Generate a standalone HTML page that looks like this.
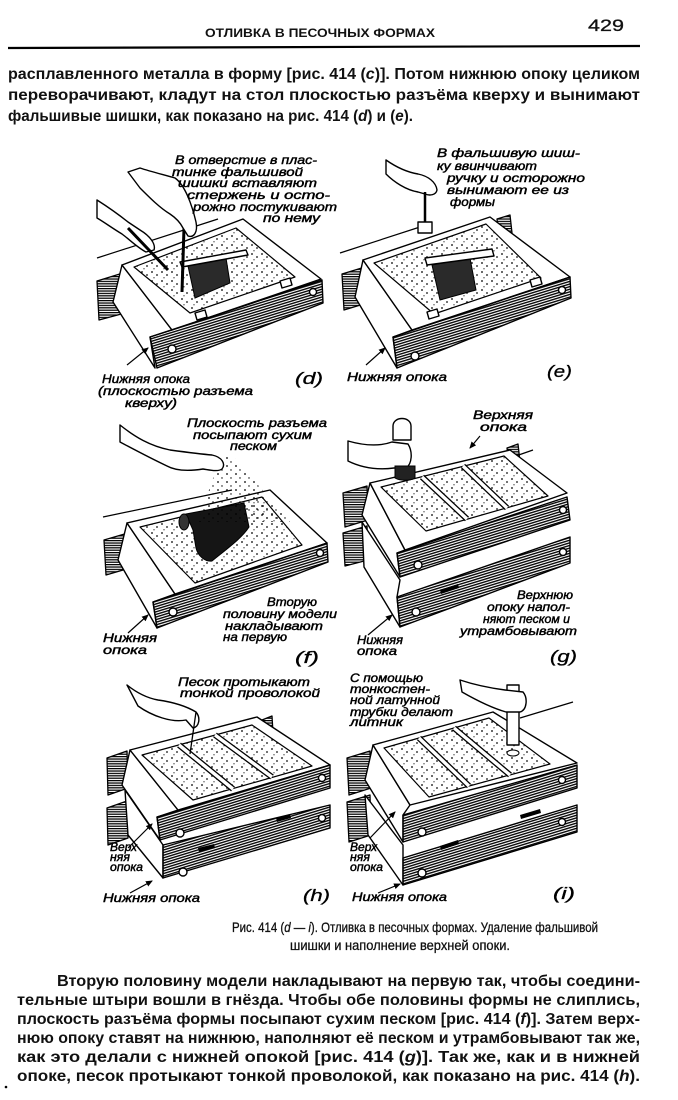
<!DOCTYPE html>
<html><head><meta charset="utf-8">
<style>
html,body{margin:0;padding:0;background:#fff;width:678px;height:1100px;overflow:hidden}
svg{display:block}
.b{font-family:"Liberation Sans","DejaVu Sans",sans-serif;font-size:16px;font-weight:bold;fill:#111}
.c{font-family:"Liberation Sans","DejaVu Sans",sans-serif;font-size:14px;fill:#111;stroke:#111;stroke-width:0.3}
.l{font-family:"Liberation Sans","DejaVu Sans",sans-serif;font-size:12px;font-style:italic;fill:#000;stroke:#000;stroke-width:0.45}
.p{font-family:"Liberation Sans","DejaVu Sans",sans-serif;font-size:17px;font-style:italic;fill:#000;stroke:#000;stroke-width:0.3}
.s{stroke:#000;stroke-width:1.4;fill:#fff;stroke-linejoin:round}
.h{stroke:#000;stroke-width:1.4;fill:url(#hatch);stroke-linejoin:round}
.hh{stroke:#000;stroke-width:1.3;fill:url(#hh);stroke-linejoin:round}
.d{stroke:#000;stroke-width:1.2;fill:url(#dots);stroke-linejoin:round}
.ln{stroke:#000;stroke-width:1.2;fill:none}
.dv{stroke:#000;stroke-width:6;stroke-linecap:butt}
.dw{stroke:#fff;stroke-width:3.4;stroke-linecap:butt}
</style></head>
<body>
<svg width="678" height="1100" viewBox="0 0 678 1100" xmlns="http://www.w3.org/2000/svg">
<defs>
<pattern id="hatch" width="6" height="2.5" patternUnits="userSpaceOnUse" patternTransform="rotate(-17)"><rect width="6" height="1.35" fill="#000"/></pattern>
<pattern id="hh" width="4" height="2.4" patternUnits="userSpaceOnUse"><rect width="4" height="1.25" fill="#000"/></pattern>
<pattern id="dots" width="10" height="9" patternUnits="userSpaceOnUse"><circle cx="2" cy="2" r="0.9" fill="#000"/><circle cx="7" cy="5" r="0.85" fill="#000"/><circle cx="4" cy="7.8" r="0.6" fill="#000"/></pattern>
<pattern id="spray" width="9" height="8" patternUnits="userSpaceOnUse"><circle cx="2" cy="2" r="0.9" fill="#000"/><circle cx="6" cy="6" r="0.7" fill="#000"/></pattern>
<marker id="ar" markerWidth="8" markerHeight="8" refX="6" refY="3" orient="auto" markerUnits="userSpaceOnUse"><path d="M0,0 L7,3 L0,6 Z" fill="#000"/></marker>
</defs>

<!-- header -->
<text x="205" y="37" style="font-family:'Liberation Sans',sans-serif;font-size:11.5px;font-weight:bold" fill="#111" textLength="230" lengthAdjust="spacingAndGlyphs">ОТЛИВКА В ПЕСОЧНЫХ ФОРМАХ</text>
<text x="588" y="31" style="font-family:'Liberation Sans',sans-serif;font-size:17px" fill="#111" stroke="#111" stroke-width="0.3" textLength="36" lengthAdjust="spacingAndGlyphs">429</text>
<line x1="8" y1="48" x2="640" y2="46" stroke="#000" stroke-width="2.2"/>

<!-- top paragraph -->
<text class="b" x="8" y="79" textLength="632" lengthAdjust="spacingAndGlyphs">расплавленного металла в форму [рис. 414 (<tspan font-style="italic">c</tspan>)]. Потом нижнюю опоку целиком</text>
<text class="b" x="8" y="100" textLength="632" lengthAdjust="spacingAndGlyphs">переворачивают, кладут на стол плоскостью разъёма кверху и вынимают</text>
<text class="b" x="8" y="121" textLength="405" lengthAdjust="spacingAndGlyphs">фальшивые шишки, как показано на рис. 414 (<tspan font-style="italic">d</tspan>) и (<tspan font-style="italic">e</tspan>).</text>

<!-- ===== PANEL d ===== -->
<path class="ln" d="M97,258 L218,219"/>
<polygon class="hh" points="97,281 123,273 125,313 99,320"/>
<polygon class="s" points="122,265 172,330 150,337 155,368 113,302"/>
<polygon class="s" points="122,265 243,219 321,279 172,330"/>
<polygon class="d" points="134,267 236,228 295,277 190,313"/>
<polygon class="s" points="280,281 290,278 292,285 282,288"/>
<polygon class="s" points="195,313 205,310 207,317 197,320"/>
<polygon class="h" points="150,337 322,280 323,303 157,368"/>
<circle class="s" cx="172" cy="349" r="4"/>
<circle class="s" cx="313" cy="292" r="3.5"/>
<polygon fill="#2a2a2a" stroke="#000" points="188,266 226,258 230,283 195,298"/>
<polygon class="s" points="180,262 246,250 248,255 182,267"/>
<line x1="184" y1="228" x2="182" y2="292" stroke="#000" stroke-width="3"/>
<path class="s" d="M128,172 L140,168 C152,172 165,175 175,178 C185,185 192,205 196,222 C198,232 194,238 188,236 L183,228 C180,222 176,218 170,214 C160,208 150,198 140,188 Z"/>
<path class="s" d="M97,200 C108,207 118,214 128,222 L140,230 C150,236 156,244 154,250 L146,252 C138,248 130,240 122,234 C112,228 104,222 97,218 Z"/>
<line x1="128" y1="228" x2="168" y2="270" stroke="#000" stroke-width="3"/>
<path class="ln" d="M127,365 L148,348" marker-end="url(#ar)"/>

<text class="l" x="175" y="164" textLength="142" lengthAdjust="spacingAndGlyphs">В отверстие в плас-</text>
<text class="l" x="172" y="176" textLength="131" lengthAdjust="spacingAndGlyphs">тинке фальшивой</text>
<text class="l" x="178" y="187" textLength="139" lengthAdjust="spacingAndGlyphs">шишки вставляют</text>
<text class="l" x="187" y="199" textLength="143" lengthAdjust="spacingAndGlyphs">стержень и осто-</text>
<text class="l" x="193" y="211" textLength="144" lengthAdjust="spacingAndGlyphs">рожно постукивают</text>
<text class="l" x="263" y="222" textLength="57" lengthAdjust="spacingAndGlyphs">по нему</text>
<text class="l" x="102" y="383" textLength="88" lengthAdjust="spacingAndGlyphs">Нижняя опока</text>
<text class="l" x="98" y="395" textLength="155" lengthAdjust="spacingAndGlyphs">(плоскостью разъема</text>
<text class="l" x="125" y="407" textLength="52" lengthAdjust="spacingAndGlyphs">кверху)</text>
<text class="p" x="295" y="384" textLength="28" lengthAdjust="spacingAndGlyphs">(d)</text>

<!-- ===== PANEL e ===== -->
<path class="ln" d="M340,253 L420,227"/>
<polygon class="hh" points="497,219 510,215 512,233 499,237"/>
<polygon class="hh" points="342,274 365,267 367,303 344,310"/>
<polygon class="s" points="363,260 412,330 393,337 397,368 355,297"/>
<polygon class="s" points="363,260 490,217 570,277 412,330"/>
<polygon class="d" points="374,263 486,224 541,278 434,314"/>
<polygon class="s" points="427,312 437,309 439,316 429,319"/>
<polygon class="s" points="530,280 540,277 542,284 532,287"/>
<polygon class="h" points="393,337 570,277 571,298 397,368"/>
<circle class="s" cx="415" cy="356" r="4"/>
<circle class="s" cx="562" cy="290" r="3.5"/>
<polygon fill="#2a2a2a" stroke="#000" points="432,265 470,258 476,290 440,300"/>
<polygon class="s" points="425,258 492,249 494,256 427,265"/>
<path class="s" d="M386,160 C396,167 406,172 418,174 C428,176 436,182 437,190 C436,195 430,196 425,194 L418,192 C406,190 394,182 386,174 Z"/>
<line x1="425" y1="192" x2="425" y2="223" stroke="#000" stroke-width="2.5"/>
<rect class="s" x="418" y="222" width="14" height="11"/>
<path class="ln" d="M366,365 L385,348" marker-end="url(#ar)"/>

<text class="l" x="437" y="157" textLength="143" lengthAdjust="spacingAndGlyphs">В фальшивую шиш-</text>
<text class="l" x="437" y="170" textLength="100" lengthAdjust="spacingAndGlyphs">ку ввинчивают</text>
<text class="l" x="447" y="182" textLength="138" lengthAdjust="spacingAndGlyphs">ручку и осторожно</text>
<text class="l" x="447" y="194" textLength="122" lengthAdjust="spacingAndGlyphs">вынимают ее из</text>
<text class="l" x="450" y="206" textLength="45" lengthAdjust="spacingAndGlyphs">формы</text>
<text class="l" x="347" y="381" textLength="100" lengthAdjust="spacingAndGlyphs">Нижняя опока</text>
<text class="p" x="547" y="377" textLength="25" lengthAdjust="spacingAndGlyphs">(e)</text>

<!-- ===== PANEL f ===== -->
<path class="ln" d="M103,517 L232,490"/>
<polygon class="hh" points="104,540 128,533 130,568 106,575"/>
<polygon class="s" points="127,523 175,594 153,602 157,628 118,560"/>
<polygon class="s" points="127,523 270,490 327,543 175,594"/>
<polygon class="d" points="140,527 262,497 302,545 195,583"/>
<polygon class="h" points="153,602 327,543 328,562 157,628"/>
<circle class="s" cx="173" cy="612" r="4"/>
<circle class="s" cx="320" cy="553" r="3.5"/>
<path fill="#151515" stroke="#000" d="M186,514 L244,503 L249,527 C242,538 228,548 212,561 C205,562 198,556 196,548 L193,530 Z"/>
<ellipse cx="184" cy="522" rx="5" ry="8" fill="#333" stroke="#000"/>
<polygon fill="url(#spray)" points="220,458 232,455 290,522 198,522"/>
<path class="s" d="M120,425 C135,437 150,446 170,450 C185,452 200,454 212,455 C222,457 226,464 222,469 C218,472 210,470 203,469 C190,471 176,471 167,466 C150,458 135,450 120,442 Z"/>
<path class="ln" d="M128,633 L148,615" marker-end="url(#ar)"/>

<text class="l" x="187" y="427" textLength="140" lengthAdjust="spacingAndGlyphs">Плоскость разъема</text>
<text class="l" x="193" y="439" textLength="119" lengthAdjust="spacingAndGlyphs">посыпают сухим</text>
<text class="l" x="230" y="450" textLength="47" lengthAdjust="spacingAndGlyphs">песком</text>
<text class="l" x="267" y="606" textLength="50" lengthAdjust="spacingAndGlyphs">Вторую</text>
<text class="l" x="223" y="618" textLength="114" lengthAdjust="spacingAndGlyphs">половину модели</text>
<text class="l" x="225" y="630" textLength="98" lengthAdjust="spacingAndGlyphs">накладывают</text>
<text class="l" x="223" y="641" textLength="64" lengthAdjust="spacingAndGlyphs">на первую</text>
<text class="l" x="103" y="642" textLength="54" lengthAdjust="spacingAndGlyphs">Нижняя</text>
<text class="l" x="103" y="654" textLength="44" lengthAdjust="spacingAndGlyphs">опока</text>
<text class="p" x="295" y="663" textLength="24" lengthAdjust="spacingAndGlyphs">(f)</text>

<!-- ===== PANEL g ===== -->
<polygon class="hh" points="507,448 518,444 520,462 509,466"/>
<path class="ln" d="M510,458 L533,450"/>
<polygon class="hh" points="343,533 367,526 368,560 345,566"/>
<polygon class="s" points="362,522 400,580 397,597 400,627 364,567"/>
<polygon class="h" points="397,597 570,537 570,563 400,627"/>
<polygon class="hh" points="343,493 367,486 368,520 345,527"/>
<polygon class="s" points="370,483 405,550 397,553 400,577 362,515"/>
<polygon class="s" points="370,483 510,450 567,493 405,550"/>
<polygon class="d" points="381,487 504,456 548,496 426,531"/>
<line class="dv" x1="422" y1="477" x2="467" y2="519"/><line class="dw" x1="422" y1="477" x2="467" y2="519"/>
<line class="dv" x1="463" y1="466" x2="507" y2="508"/><line class="dw" x1="463" y1="466" x2="507" y2="508"/>
<polygon class="h" points="397,553 567,497 570,520 400,577"/>
<circle class="s" cx="418" cy="565" r="4"/>
<circle class="s" cx="563" cy="510" r="3.5"/>
<circle class="s" cx="563" cy="552" r="3.5"/>
<circle class="s" cx="416" cy="612" r="4"/>
<polygon fill="#000" points="440,590 458,584 459,588 441,594"/>
<path class="s" d="M393,440 L393,426 C393,416 411,416 411,426 L411,440 Z"/>
<path class="s" d="M348,441 C362,445 378,447 392,442 L408,444 C413,452 412,464 406,468 L394,468 C378,470 362,468 348,461 Z"/>
<path fill="#222" stroke="#000" d="M395,466 L415,466 L415,478 C410,481 400,481 395,478 Z"/>
<path class="ln" d="M480,436 L470,448" marker-end="url(#ar)"/>
<path class="ln" d="M368,635 L392,615" marker-end="url(#ar)"/>

<text class="l" x="473" y="419" textLength="60" lengthAdjust="spacingAndGlyphs">Верхняя</text>
<text class="l" x="480" y="431" textLength="47" lengthAdjust="spacingAndGlyphs">опока</text>
<text class="l" x="517" y="599" textLength="56" lengthAdjust="spacingAndGlyphs">Верхнюю</text>
<text class="l" x="487" y="611" textLength="83" lengthAdjust="spacingAndGlyphs">опоку напол-</text>
<text class="l" x="483" y="623" textLength="87" lengthAdjust="spacingAndGlyphs">няют песком и</text>
<text class="l" x="460" y="635" textLength="117" lengthAdjust="spacingAndGlyphs">утрамбовывают</text>
<text class="l" x="357" y="644" textLength="46" lengthAdjust="spacingAndGlyphs">Нижняя</text>
<text class="l" x="357" y="655" textLength="40" lengthAdjust="spacingAndGlyphs">опока</text>
<text class="p" x="550" y="662" textLength="27" lengthAdjust="spacingAndGlyphs">(g)</text>

<!-- ===== PANEL h ===== -->
<polygon class="hh" points="262,720 272,716 273,733 264,736"/>
<polygon class="hh" points="107,808 127,801 128,838 108,845"/>
<polygon class="s" points="125,790 163,845 163,878 128,835"/>
<polygon class="h" points="163,845 330,805 330,828 163,878"/>
<polygon class="hh" points="107,758 127,751 128,788 108,795"/>
<polygon class="s" points="130,750 178,810 157,817 160,840 122,785"/>
<polygon class="s" points="130,750 257,717 330,765 178,810"/>
<polygon class="d" points="142,755 252,725 312,766 193,800"/>
<line class="dv" x1="179" y1="745" x2="233" y2="789"/><line class="dw" x1="179" y1="745" x2="233" y2="789"/>
<line class="dv" x1="215" y1="735" x2="272" y2="777"/><line class="dw" x1="215" y1="735" x2="272" y2="777"/>
<polygon class="h" points="157,817 330,765 330,788 160,840"/>
<circle class="s" cx="180" cy="833" r="4"/>
<circle class="s" cx="322" cy="778" r="3.5"/>
<circle class="s" cx="322" cy="818" r="3.5"/>
<circle class="s" cx="183" cy="872" r="4"/>
<polygon fill="#000" points="198,848 214,844 215,848 199,852"/>
<polygon fill="#000" points="276,818 290,814 291,818 277,822"/>
<path class="s" d="M127,685 C137,693 147,698 158,700 C172,702 186,706 196,712 C201,718 199,727 193,728 L186,720 C172,723 152,716 138,706 Z"/>
<line x1="196" y1="712" x2="190" y2="754" stroke="#000" stroke-width="1.3"/>
<path class="ln" d="M128,848 L152,824" marker-end="url(#ar)"/>
<path class="ln" d="M130,893 L152,881" marker-end="url(#ar)"/>

<text class="l" x="178" y="686" textLength="132" lengthAdjust="spacingAndGlyphs">Песок протыкают</text>
<text class="l" x="180" y="697" textLength="140" lengthAdjust="spacingAndGlyphs">тонкой проволокой</text>
<text class="l" x="110" y="851" textLength="27" lengthAdjust="spacingAndGlyphs">Верх</text>
<text class="l" x="110" y="861" textLength="20" lengthAdjust="spacingAndGlyphs">няя</text>
<text class="l" x="110" y="871" textLength="33" lengthAdjust="spacingAndGlyphs">опока</text>
<text class="l" x="103" y="902" textLength="97" lengthAdjust="spacingAndGlyphs">Нижняя опока</text>
<text class="p" x="303" y="901" textLength="27" lengthAdjust="spacingAndGlyphs">(h)</text>

<!-- ===== PANEL i ===== -->
<polygon class="hh" points="347,802 370,795 371,835 349,842"/>
<polygon class="s" points="365,795 403,845 403,885 368,835"/>
<polygon class="h" points="403,858 577,805 577,832 403,885"/>
<polygon class="hh" points="347,758 370,751 371,788 349,795"/>
<polygon class="s" points="373,745 410,805 403,815 403,842 365,780"/>
<polygon class="s" points="373,745 493,712 577,763 410,805"/>
<polygon class="d" points="384,748 489,718 550,764 429,797"/>
<line class="dv" x1="419" y1="738" x2="469" y2="786"/><line class="dw" x1="419" y1="738" x2="469" y2="786"/>
<line class="dv" x1="454" y1="728" x2="510" y2="775"/><line class="dw" x1="454" y1="728" x2="510" y2="775"/>
<polygon class="h" points="403,815 577,765 577,788 403,842"/>
<circle class="s" cx="422" cy="832" r="4"/>
<circle class="s" cx="562" cy="780" r="3.5"/>
<circle class="s" cx="562" cy="822" r="3.5"/>
<circle class="s" cx="422" cy="873" r="4"/>
<polygon fill="#000" points="440,846 458,840 459,844 441,850"/>
<polygon fill="#000" points="520,815 540,809 541,813 521,819"/>
<ellipse cx="513" cy="753" rx="6" ry="3" fill="#fff" stroke="#000"/>
<rect class="s" x="507" y="685" width="12" height="60"/>
<path class="s" d="M460,680 C475,685 490,688 505,690 L523,692 C528,698 527,710 520,712 L506,712 C492,708 476,700 462,692 Z"/>
<path class="ln" d="M520,718 L573,702"/>
<path class="ln" d="M370,838 L395,812" marker-end="url(#ar)"/>
<path class="ln" d="M378,893 L400,884" marker-end="url(#ar)"/>

<text class="l" x="350" y="682" textLength="73" lengthAdjust="spacingAndGlyphs">С помощью</text>
<text class="l" x="350" y="693" textLength="80" lengthAdjust="spacingAndGlyphs">тонкостен-</text>
<text class="l" x="350" y="704" textLength="90" lengthAdjust="spacingAndGlyphs">ной латунной</text>
<text class="l" x="350" y="716" textLength="103" lengthAdjust="spacingAndGlyphs">трубки делают</text>
<text class="l" x="350" y="726" textLength="53" lengthAdjust="spacingAndGlyphs">литник</text>
<text class="l" x="350" y="851" textLength="27" lengthAdjust="spacingAndGlyphs">Верх</text>
<text class="l" x="350" y="861" textLength="20" lengthAdjust="spacingAndGlyphs">няя</text>
<text class="l" x="350" y="871" textLength="33" lengthAdjust="spacingAndGlyphs">опока</text>
<text class="l" x="352" y="901" textLength="95" lengthAdjust="spacingAndGlyphs">Нижняя опока</text>
<text class="p" x="553" y="899" textLength="22" lengthAdjust="spacingAndGlyphs">(i)</text>

<!-- caption -->
<text class="c" x="232" y="932" textLength="366" lengthAdjust="spacingAndGlyphs">Рис. 414 (<tspan font-style="italic">d</tspan> — <tspan font-style="italic">i</tspan>). Отливка в песочных формах. Удаление фальшивой</text>
<text class="c" x="290" y="950" textLength="220" lengthAdjust="spacingAndGlyphs">шишки и наполнение верхней опоки.</text>

<!-- bottom paragraph -->
<text class="b" x="57" y="986" textLength="583" lengthAdjust="spacingAndGlyphs">Вторую половину модели накладывают на первую так, чтобы соедини-</text>
<text class="b" x="17" y="1005" textLength="623" lengthAdjust="spacingAndGlyphs">тельные штыри вошли в гнёзда. Чтобы обе половины формы не слиплись,</text>
<text class="b" x="17" y="1024" textLength="623" lengthAdjust="spacingAndGlyphs">плоскость разъёма формы посыпают сухим песком [рис. 414 (<tspan font-style="italic">f</tspan>)]. Затем верх-</text>
<text class="b" x="17" y="1043" textLength="623" lengthAdjust="spacingAndGlyphs">нюю опоку ставят на нижнюю, наполняют её песком и утрамбовывают так же,</text>
<text class="b" x="17" y="1062" textLength="623" lengthAdjust="spacingAndGlyphs">как это делали с нижней опокой [рис. 414 (<tspan font-style="italic">g</tspan>)]. Так же, как и в нижней</text>
<text class="b" x="17" y="1081" textLength="623" lengthAdjust="spacingAndGlyphs">опоке, песок протыкают тонкой проволокой, как показано на рис. 414 (<tspan font-style="italic">h</tspan>).</text>
<circle cx="6" cy="1087" r="1.3" fill="#000"/>
</svg>
</body></html>
